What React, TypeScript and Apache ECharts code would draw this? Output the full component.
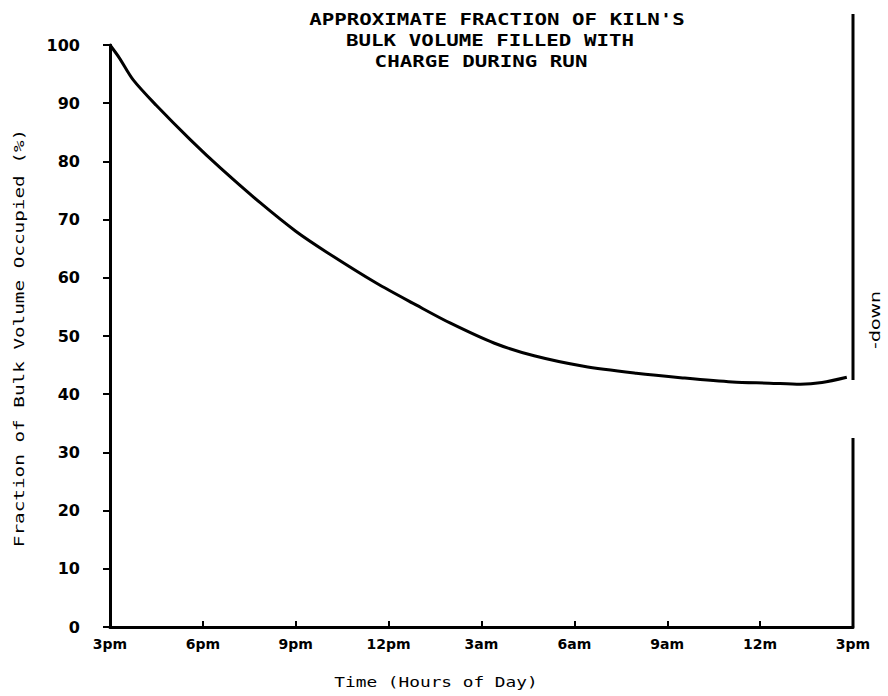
import React, { useEffect, useRef } from "react";
import * as echarts from "echarts";

const hours = [0, 0.3, 0.75, 1.5, 2.6, 3.6, 4.85, 6.0, 7.0, 8.6, 9.9, 11.0, 12.4, 13.7, 15.3, 17.0, 18.5, 20.1, 21.3, 22.3, 23.0, 23.8];
const fractionPct = [100, 97.8, 94, 89.6, 83.7, 78.7, 72.9, 68.0, 64.4, 59.1, 55.3, 52.2, 48.8, 46.6, 44.8, 43.6, 42.8, 42.1, 41.9, 41.7, 42.0, 42.9];
const xTickLabels = ["3pm", "6pm", "9pm", "12pm", "3am", "6am", "9am", "12m", "3pm"];
const titleLines = ["APPROXIMATE FRACTION OF KILN'S", "BULK VOLUME FILLED WITH", "CHARGE DURING RUN"];
const yAxisTitle = "Fraction of Bulk Volume Occupied (%)";
const xAxisTitle = "Time (Hours of Day)";
const sideNote = "-down";

export default function App() {
  const ref = useRef<HTMLDivElement>(null);
  useEffect(() => {
    if (!ref.current) return;
    const chart = echarts.init(ref.current, null, { renderer: "svg" });
    const mono = "DejaVu Sans Mono";
    const data = hours.map((h, i) => [h, fractionPct[i]]);
    const titleX = [497, 490, 481];
    chart.setOption({
      animation: false,
      backgroundColor: "#ffffff",
      grid: { left: 110, right: 35, top: 45, bottom: 69, containLabel: false },
      xAxis: {
        type: "value",
        min: 0,
        max: 24,
        interval: 3,
        axisLine: { show: true, lineStyle: { color: "#000", width: 3 } },
        axisTick: { show: true, inside: true, length: 6, lineStyle: { color: "#000", width: 2 } },
        splitLine: { show: false },
        axisLabel: {
          color: "#000",
          fontFamily: "DejaVu Sans",
          fontWeight: "bold",
          fontSize: 14,
          margin: 10,
          formatter: (v: number) => xTickLabels[Math.round(v / 3)] ?? "",
        },
      },
      yAxis: {
        type: "value",
        min: 0,
        max: 100,
        interval: 10,
        axisLine: { show: true, lineStyle: { color: "#000", width: 3 } },
        axisTick: { show: true, inside: false, length: 7, lineStyle: { color: "#000", width: 2 } },
        splitLine: { show: false },
        axisLabel: {
          color: "#000",
          fontFamily: "DejaVu Sans",
          fontWeight: "bold",
          fontSize: 16,
          margin: 30,
        },
      },
      graphic: [
        {
          type: "line",
          shape: { x1: 853, y1: 14, x2: 853, y2: 380 },
          style: { stroke: "#000", lineWidth: 3 },
        },
        {
          type: "line",
          shape: { x1: 853, y1: 438, x2: 853, y2: 627 },
          style: { stroke: "#000", lineWidth: 3 },
        },
        ...titleLines.map((t, i) => ({
          type: "text",
          x: titleX[i],
          y: 19 + i * 21,
          scaleX: 1.3,
          style: {
            text: t,
            fill: "#000",
            font: `bold 16px ${mono}`,
            textAlign: "center",
            textVerticalAlign: "middle",
          },
        })),
        {
          type: "text",
          x: 436,
          y: 682,
          scaleX: 1.27,
          style: {
            text: xAxisTitle,
            fill: "#000",
            font: `14px ${mono}`,
            textAlign: "center",
            textVerticalAlign: "middle",
          },
        },
        {
          type: "text",
          x: 19,
          y: 338,
          rotation: Math.PI / 2,
          scaleX: 1.38,
          style: {
            text: yAxisTitle,
            fill: "#000",
            font: `14px ${mono}`,
            textAlign: "center",
            textVerticalAlign: "middle",
          },
        },
        {
          type: "text",
          x: 875,
          y: 320,
          rotation: Math.PI / 2,
          scaleX: 1.35,
          style: {
            text: sideNote,
            fill: "#000",
            font: `14px DejaVu Sans`,
            textAlign: "center",
            textVerticalAlign: "middle",
          },
        },
      ],
      series: [
        {
          type: "line",
          data,
          smooth: 0.3,
          showSymbol: false,
          lineStyle: { color: "#000", width: 3 },
        },
      ],
    });
    return () => chart.dispose();
  }, []);
  return <div ref={ref} style={{ position: "fixed", left: 0, top: 0, width: 888, height: 696 }} />;
}
